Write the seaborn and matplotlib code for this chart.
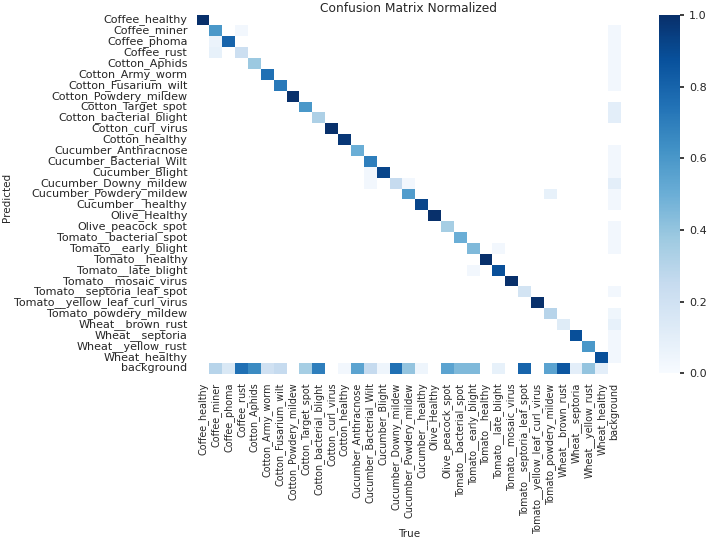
import numpy as np
import seaborn as sns
import matplotlib.pyplot as plt

labels = [
    "Coffee_healthy", "Coffee_miner", "Coffee_phoma", "Coffee_rust",
    "Cotton_Aphids", "Cotton_Army_worm", "Cotton_Fusarium_wilt",
    "Cotton_Powdery_mildew", "Cotton_Target_spot", "Cotton_bacterial_blight",
    "Cotton_curl_virus", "Cotton_healthy", "Cucumber_Anthracnose",
    "Cucumber_Bacterial_Wilt", "Cucumber_Blight", "Cucumber_Downy_mildew",
    "Cucumber_Powdery_mildew", "Cucumber__healthy", "Olive_Healthy",
    "Olive_peacock_spot", "Tomato__bacterial_spot", "Tomato__early_blight",
    "Tomato__healthy", "Tomato__late_blight", "Tomato__mosaic_virus",
    "Tomato__septoria_leaf_spot", "Tomato__yellow_leaf_curl_virus",
    "Tomato_powdery_mildew", "Wheat__brown_rust", "Wheat__septoria",
    "Wheat__yellow_rust", "Wheat_healthy", "background",
]

# diagonal (correct predictions per true class)
diag = [1.0, 0.6, 0.8, 0.22, 0.38, 0.75, 0.72, 1.0, 0.6, 0.33,
        1.0, 0.97, 0.5, 0.7, 0.92, 0.25, 0.58, 0.92, 1.0, 0.35,
        0.5, 0.45, 1.0, 0.88, 1.0, 0.18, 1.0, 0.3, 0.12, 0.88,
        0.6, 0.88, 0.0]

# last row: true class predicted as background
background_row = [0.0, 0.3, 0.15, 0.75, 0.65, 0.2, 0.25, 0.0, 0.35, 0.7,
                  0.0, 0.03, 0.55, 0.25, 0.05, 0.75, 0.4, 0.05, 0.0, 0.55,
                  0.45, 0.45, 0.0, 0.08, 0.0, 0.8, 0.0, 0.55, 0.85, 0.1,
                  0.4, 0.1, 0.0]

# last column: background predicted as class
background_col = [0.0, 0.03, 0.03, 0.03, 0.03, 0.03, 0.03, 0.0, 0.1, 0.1,
                  0.0, 0.0, 0.03, 0.03, 0.03, 0.1, 0.03, 0.03, 0.0, 0.03,
                  0.03, 0.03, 0.0, 0.0, 0.0, 0.03, 0.0, 0.04, 0.08, 0.03,
                  0.03, 0.03, 0.0]

# other small confusions: (predicted row, true column, value)
others = [(1, 3, 0.03), (2, 1, 0.06), (3, 1, 0.08), (14, 13, 0.03),
          (15, 13, 0.03), (15, 16, 0.03), (16, 27, 0.08), (21, 23, 0.03),
          (23, 21, 0.03)]

n = len(labels)
cm = np.diag(diag)
cm[-1, :] = background_row
cm[:, -1] = background_col
for r, c, v in others:
    cm[r, c] = v
cm[cm < 0.005] = np.nan

sns.set_theme(style="white", font_scale=0.8)

fig = plt.figure(figsize=(7.09, 5.40), dpi=100)
ax = fig.add_axes([0.2773, 0.3083, 0.5986, 0.6648])
cax = fig.add_axes([0.9295, 0.309, 0.0296, 0.663])

sns.heatmap(
    cm,
    ax=ax,
    cbar_ax=cax,
    cmap="Blues",
    vmin=0.0,
    vmax=1.0,
    xticklabels=labels,
    yticklabels=labels,
)
ax.set_facecolor("white")
ax.tick_params(axis="both", length=3, width=0.8, color="#333333")
ax.tick_params(axis="y", labelsize=8)
ax.tick_params(axis="x", labelsize=6.9)
ax.set_xticklabels(labels, rotation=90)
ax.set_yticklabels(labels, rotation=0)
ax.set_title("Confusion Matrix Normalized", fontsize=8.8, pad=2)
ax.set_xlabel("True", fontsize=7.5)
ax.set_ylabel("Predicted", fontsize=7.5)
ax.xaxis.set_label_coords(0.5, -0.433)
ax.yaxis.set_label_coords(-0.436, 0.49)

cax.tick_params(labelsize=8, length=3)
cax.set_yticks([0.0, 0.2, 0.4, 0.6, 0.8, 1.0])

plt.savefig("out.png", dpi=100)
